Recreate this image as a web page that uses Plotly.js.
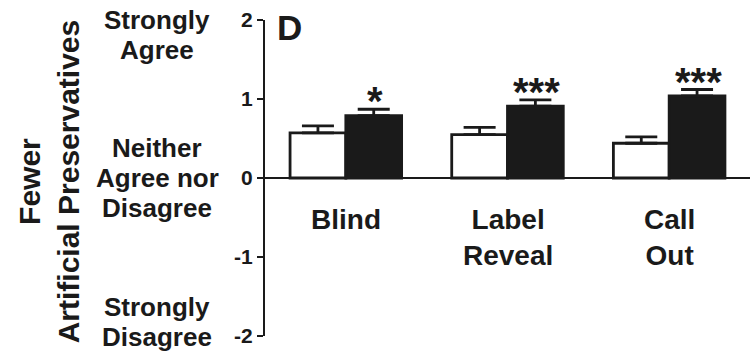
<!DOCTYPE html>
<html><head><meta charset="utf-8">
<script src="https://cdn.plot.ly/plotly-3.0.1.min.js"></script>
<style>html,body{margin:0;padding:0;background:#fff}#chart{width:753px;height:351px}</style>
</head><body><div id="chart"></div>
<script>
const categories = ["Blind", "Label<br>Reveal", "Call<br>Out"];
const controlValues = [0.57, 0.55, 0.44];
const controlErrors = [0.09, 0.09, 0.08];
const treatedValues = [0.79, 0.91, 1.04];
const treatedErrors = [0.08, 0.08, 0.08];
const significance = ["*", "***", "***"];
const yTickVals = [-2, -1, 0, 1, 2];
const yTickText = ["-2", "-1", "0", "1", "2"];
const scaleLabels = ["Strongly<br>Agree", "Neither<br>Agree nor<br>Disagree", "Strongly<br>Disagree"];
const scaleLabelPos = [1.81, 0, -1.82];
const yTitle = "Fewer<br>Artificial Preservatives";
const panelLetter = "D";

const FONT = "Liberation Sans, Arial, sans-serif";
const INK = "#1a1a1a";
const xIdx = categories.map((_, i) => i);

const traces = [
  {type: "bar", x: xIdx, y: controlValues, name: "control",
   marker: {color: "#ffffff", line: {color: INK, width: 2.8}},
   error_y: {type: "data", symmetric: false, array: controlErrors, arrayminus: controlErrors.map(() => 0),
             color: INK, thickness: 2.8, width: 16}},
  {type: "bar", x: xIdx, y: treatedValues, name: "treated",
   marker: {color: INK, line: {color: INK, width: 2.8}},
   error_y: {type: "data", symmetric: false, array: treatedErrors, arrayminus: treatedErrors.map(() => 0),
             color: INK, thickness: 2.8, width: 16}}
];

const annotations = [];
categories.forEach((c, i) => {
  annotations.push({xref: "x", yref: "y", x: i, y: 0, yshift: -24, yanchor: "top", showarrow: false,
    text: "<b>" + c + "</b>", font: {family: FONT, size: 28, color: INK}});
  annotations.push({xref: "x", yref: "y", x: i + 0.18, y: treatedValues[i] + treatedErrors[i], yshift: -16,
    yanchor: "bottom", showarrow: false, text: "<b>" + significance[i] + "</b>",
    font: {family: FONT, size: 40, color: INK}});
});
const LINE_PX = 30;
scaleLabels.forEach((t, i) => {
  const lines = t.split("<br>");
  lines.forEach((ln, j) => {
    annotations.push({xref: "paper", yref: "y", x: -0.222, y: scaleLabelPos[i],
      yshift: ((lines.length - 1) / 2 - j) * LINE_PX, xanchor: "center", yanchor: "middle",
      showarrow: false, text: "<b>" + ln + "</b>", font: {family: FONT, size: 26, color: INK}});
  });
});
annotations.push({xref: "paper", yref: "paper", x: -0.445, y: 0.49, xanchor: "center", yanchor: "middle",
  textangle: -90, showarrow: false, text: "<b>" + yTitle + "</b>", font: {family: FONT, size: 30, color: INK}});
annotations.push({xref: "paper", yref: "paper", x: 0.02, y: 1.045, xanchor: "left", yanchor: "top",
  showarrow: false, text: "<b>" + panelLetter + "</b>", font: {family: FONT, size: 35, color: INK}});

const layout = {
  width: 753, height: 351,
  margin: {l: 265, r: 3, t: 20, b: 15},
  paper_bgcolor: "#ffffff", plot_bgcolor: "#ffffff",
  showlegend: false,
  barmode: "group", bargap: 0.31, bargroupgap: 0,
  xaxis: {range: [-0.5, 2.5], showticklabels: false, showgrid: false, zeroline: false, showline: false, ticks: ""},
  yaxis: {range: [-2, 2], tickvals: yTickVals, ticktext: yTickText.map(t => "<b>" + t + "</b>"),
    tickfont: {family: FONT, size: 21, color: INK}, ticks: "outside", ticklen: 6, tickwidth: 2, tickcolor: INK,
    showline: true, linewidth: 2, linecolor: INK, showgrid: false,
    zeroline: true, zerolinecolor: INK, zerolinewidth: 2},
  annotations: annotations
};
Plotly.newPlot("chart", traces, layout, {staticPlot: true, displayModeBar: false});
</script></body></html>
